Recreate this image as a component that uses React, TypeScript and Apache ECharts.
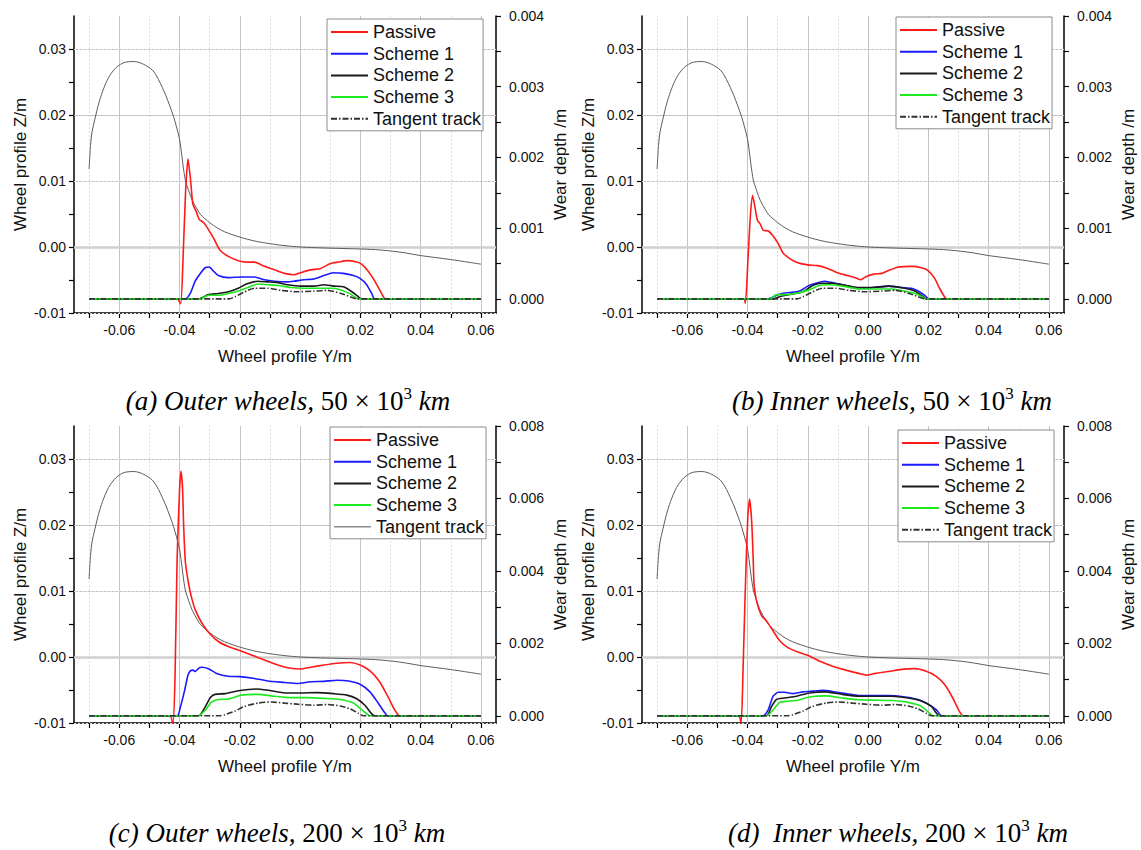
import React, { useEffect, useRef } from 'react';
import * as echarts from 'echarts';

// ---- axis tick / label values ----
const xLabelValues = [-0.06, -0.04, -0.02, 0, 0.02, 0.04, 0.06];
const xTickValues = [-0.07, -0.06, -0.05, -0.04, -0.03, -0.02, -0.01, 0, 0.01, 0.02, 0.03, 0.04, 0.05, 0.06];
const xMinorGrid = [-0.07, -0.05, -0.03, -0.01, 0.01, 0.03, 0.05];
const zLabelValues = [-0.01, 0, 0.01, 0.02, 0.03];
const zTickValues = [-0.01, -0.005, 0, 0.005, 0.01, 0.015, 0.02, 0.025, 0.03];
const zMajorGrid = [0.01, 0.02, 0.03];
const zMinorGrid = [-0.005, 0.005, 0.015, 0.025];
const wearLabels50 = [0, 0.001, 0.002, 0.003, 0.004];
const wearTicks50 = [0, 0.0005, 0.001, 0.0015, 0.002, 0.0025, 0.003, 0.0035, 0.004];
const wearLabels200 = [0, 0.002, 0.004, 0.006, 0.008];
const wearTicks200 = [0, 0.001, 0.002, 0.003, 0.004, 0.005, 0.006, 0.007, 0.008];

const seriesNames = ['Passive', 'Scheme 1', 'Scheme 2', 'Scheme 3', 'Tangent track'];

// ---- wheel profile (Y, Z) ----
const wheelProfile = [
  [-0.07, 0.0118], [-0.0695, 0.0155], [-0.069, 0.0175], [-0.068, 0.0195], [-0.067, 0.0214],
  [-0.0655, 0.0236], [-0.0635, 0.0257], [-0.061, 0.0272], [-0.058, 0.028], [-0.055, 0.0281],
  [-0.052, 0.0277], [-0.049, 0.0268], [-0.047, 0.0254], [-0.0445, 0.0229], [-0.042, 0.0198],
  [-0.041, 0.0182], [-0.04, 0.0164], [-0.0395, 0.0148], [-0.039, 0.013], [-0.0385, 0.0113],
  [-0.038, 0.01], [-0.037, 0.0086], [-0.0358, 0.0071], [-0.034, 0.0056], [-0.033, 0.0049],
  [-0.03, 0.0037], [-0.0275, 0.0029], [-0.025, 0.0023], [-0.02, 0.0015], [-0.015, 0.0009],
  [-0.01, 0.0005], [-0.005, 0.0002], [0, 0], [0.005, -0.0001], [0.012, -0.0002],
  [0.02, -0.0003], [0.025, -0.0004], [0.03, -0.0006], [0.035, -0.0009], [0.04, -0.0013],
  [0.05, -0.0019], [0.06, -0.0026],
];

// ---- (a) outer wheels, 50e3 km ----
const passiveA = [
  [-0.07, 0], [-0.0408, 0], [-0.0396, -0.00007], [-0.0388, 0.0006], [-0.038, 0.0015], [-0.0372, 0.00198],
  [-0.0364, 0.00171], [-0.0358, 0.00142], [-0.0355, 0.00133], [-0.0345, 0.00124], [-0.0334, 0.00112],
  [-0.032, 0.00108], [-0.0304, 0.00098], [-0.0287, 0.00086], [-0.0266, 0.00069], [-0.0238, 0.0006],
  [-0.0205, 0.00054], [-0.0178, 0.00052], [-0.0151, 0.00052], [-0.0118, 0.00046], [-0.0085, 0.00041],
  [-0.0052, 0.00036], [-0.002, 0.00034], [0.0002, 0.00037], [0.0035, 0.00041], [0.0068, 0.00043],
  [0.0101, 0.0005], [0.0128, 0.00052], [0.0155, 0.00054], [0.0188, 0.00052], [0.0204, 0.00049],
  [0.0226, 0.00039], [0.0248, 0.00025], [0.027, 0.00008], [0.0283, 0], [0.06, 0],
];
const scheme1A = [
  [-0.07, 0], [-0.038, 0], [-0.0364, 0.00008], [-0.0348, 0.00025], [-0.0331, 0.00036], [-0.0315, 0.00044],
  [-0.0301, 0.00045], [-0.0287, 0.00039], [-0.0271, 0.00033], [-0.0238, 0.0003], [-0.0195, 0.00031],
  [-0.0151, 0.00031], [-0.0118, 0.00027], [-0.0085, 0.00025], [-0.0042, 0.00024], [-0.002, 0.00025],
  [0.0013, 0.00027], [0.0046, 0.00028], [0.0079, 0.00033], [0.0111, 0.00037], [0.0144, 0.00036],
  [0.0177, 0.00033], [0.0199, 0.00029], [0.0221, 0.0002], [0.0237, 0.00008], [0.0248, 0], [0.06, 0],
];
const scheme2A = [
  [-0.07, 0], [-0.0337, 0], [-0.0304, 0.00006], [-0.0271, 0.000075], [-0.0238, 0.0001], [-0.0205, 0.00015],
  [-0.0178, 0.00021], [-0.014, 0.00025], [-0.0107, 0.00024], [-0.0074, 0.00023], [-0.0042, 0.0002],
  [0.0002, 0.00018], [0.0046, 0.00018], [0.0079, 0.0002], [0.0111, 0.00018], [0.0144, 0.00017],
  [0.0172, 0.0001], [0.0193, 0.00003], [0.0204, 0], [0.06, 0],
];
const scheme3A = [
  [-0.07, 0], [-0.0331, 0], [-0.0304, 0.00005], [-0.0271, 0.00005], [-0.0238, 0.000075], [-0.0205, 0.00011],
  [-0.0173, 0.00016], [-0.014, 0.00021], [-0.0107, 0.0002], [-0.0074, 0.00019], [-0.0031, 0.00016],
  [0.0013, 0.00015], [0.0057, 0.00015], [0.0101, 0.00015], [0.0133, 0.00013], [0.0166, 0.00007],
  [0.0188, 0.00001], [0.0193, 0], [0.06, 0],
];
const tangent50 = [
  [-0.07, 0], [-0.0235, 0], [-0.0216, 0.00003], [-0.0184, 0.0001], [-0.0151, 0.00015], [-0.0107, 0.00015],
  [-0.0063, 0.00012], [-0.0009, 0.0001], [0.0046, 0.00011], [0.009, 0.00012], [0.0133, 0.00008],
  [0.0166, 0.00003], [0.0188, 0], [0.06, 0],
];

// ---- (b) inner wheels, 50e3 km ----
const passiveB = [
  [-0.07, 0], [-0.0412, 0], [-0.0407, -0.00006], [-0.0398, 0.0006], [-0.039, 0.0012], [-0.0383, 0.00146],
  [-0.0375, 0.00129], [-0.0367, 0.00111], [-0.0358, 0.00106], [-0.0348, 0.00097], [-0.0331, 0.00096],
  [-0.0315, 0.00089], [-0.0298, 0.00078], [-0.0282, 0.00065], [-0.026, 0.00057], [-0.0233, 0.00051],
  [-0.02, 0.00048], [-0.0167, 0.00047], [-0.0134, 0.00043], [-0.0102, 0.00037], [-0.0069, 0.00033],
  [-0.0042, 0.0003], [-0.0025, 0.00027], [-0.0009, 0.00031], [0.0019, 0.00035], [0.0046, 0.00036],
  [0.0068, 0.0004], [0.0101, 0.00045], [0.0144, 0.00046], [0.0177, 0.00044], [0.0199, 0.0004],
  [0.0221, 0.00029], [0.0237, 0.00015], [0.0255, 0.00002], [0.026, 0], [0.06, 0],
];
const scheme1B = [
  [-0.07, 0], [-0.0331, 0], [-0.0304, 0.00005], [-0.0282, 0.00008], [-0.0249, 0.000095], [-0.0227, 0.00011],
  [-0.02, 0.00018], [-0.0173, 0.00022], [-0.0145, 0.00025], [-0.0118, 0.00023], [-0.0085, 0.0002],
  [-0.0042, 0.00016], [-0.0009, 0.00015], [0.0035, 0.00017], [0.0068, 0.00018], [0.0111, 0.00016],
  [0.0144, 0.00015], [0.0166, 0.00011], [0.0188, 0.00005], [0.0201, 0], [0.06, 0],
];
const scheme2B = [
  [-0.07, 0], [-0.0315, 0], [-0.0293, 0.00003], [-0.0249, 0.00007], [-0.0216, 0.0001], [-0.0184, 0.00019],
  [-0.0151, 0.00022], [-0.0118, 0.00022], [-0.0074, 0.00019], [-0.0031, 0.00016], [0.0013, 0.00016],
  [0.0068, 0.00018], [0.0122, 0.00015], [0.0155, 0.00011], [0.0183, 0.00003], [0.0193, 0], [0.06, 0],
];
const scheme3B = [
  [-0.07, 0], [-0.0325, 0], [-0.0304, 0.00006], [-0.0271, 0.00006], [-0.0238, 0.00008], [-0.02, 0.00012],
  [-0.0162, 0.00019], [-0.0129, 0.0002], [-0.0085, 0.00018], [-0.0031, 0.00014], [0.0024, 0.00014],
  [0.0079, 0.00014], [0.0122, 0.00011], [0.0155, 0.00008], [0.0183, 0.00002], [0.0188, 0], [0.06, 0],
];

// ---- (c) outer wheels, 200e3 km ----
const passiveC = [
  [-0.07, 0], [-0.0432, 0], [-0.0422, -0.00025], [-0.0415, 0.001], [-0.0408, 0.0043], [-0.04, 0.0062],
  [-0.0395, 0.00675], [-0.039, 0.0063], [-0.0386, 0.0052], [-0.0381, 0.0043], [-0.0375, 0.0039],
  [-0.0367, 0.00352], [-0.0358, 0.0032], [-0.0348, 0.00293], [-0.0326, 0.00256], [-0.0301, 0.00228],
  [-0.0271, 0.00205], [-0.0238, 0.00191], [-0.02, 0.0018], [-0.0162, 0.00168], [-0.0118, 0.00154],
  [-0.0074, 0.0014], [-0.0031, 0.00131], [0, 0.00129], [0.0035, 0.00134], [0.0079, 0.0014],
  [0.0122, 0.00145], [0.0166, 0.00147], [0.0199, 0.0014], [0.0232, 0.00124], [0.0264, 0.00094],
  [0.0292, 0.00052], [0.031, 0.00022], [0.0325, 0.00003], [0.033, 0], [0.06, 0],
];
const scheme1C = [
  [-0.07, 0], [-0.0408, 0], [-0.0397, 0.00024], [-0.0383, 0.0007], [-0.0372, 0.00112], [-0.0364, 0.00124],
  [-0.0355, 0.00126], [-0.0348, 0.00122], [-0.0337, 0.00131], [-0.0326, 0.00134], [-0.0304, 0.0013],
  [-0.0277, 0.00117], [-0.0238, 0.00109], [-0.02, 0.00108], [-0.0151, 0.00103], [-0.0107, 0.00096],
  [-0.0052, 0.00092], [-0.0009, 0.00089], [0.0035, 0.00094], [0.0079, 0.00095], [0.0122, 0.00098],
  [0.0161, 0.00096], [0.0199, 0.00087], [0.0232, 0.00066], [0.0259, 0.00035], [0.0283, 0.00006],
  [0.029, 0], [0.06, 0],
];
const scheme2C = [
  [-0.07, 0], [-0.0337, 0], [-0.0315, 0.00024], [-0.0298, 0.0005], [-0.0282, 0.00059], [-0.0249, 0.00061],
  [-0.0205, 0.00069], [-0.0145, 0.00074], [-0.0096, 0.00069], [-0.0042, 0.00063], [0.0002, 0.00063],
  [0.0057, 0.00064], [0.0111, 0.00061], [0.0155, 0.00057], [0.0188, 0.00047], [0.0215, 0.00029],
  [0.0237, 0.00006], [0.0248, 0], [0.06, 0],
];
const scheme3C = [
  [-0.07, 0], [-0.0337, 0], [-0.0315, 0.00015], [-0.0293, 0.00038], [-0.0271, 0.00045], [-0.0238, 0.00046],
  [-0.0195, 0.00057], [-0.014, 0.00059], [-0.0085, 0.00054], [-0.0031, 0.0005], [0.0024, 0.0005],
  [0.0079, 0.00048], [0.0133, 0.00045], [0.0177, 0.00035], [0.021, 0.00013], [0.0232, 0], [0.06, 0],
];
const tangent200 = [
  [-0.07, 0], [-0.027, 0], [-0.0249, 0.00003], [-0.0216, 0.00013], [-0.0184, 0.00026], [-0.014, 0.00035],
  [-0.0096, 0.00038], [-0.0052, 0.00035], [-0.0009, 0.00032], [0.0046, 0.00029], [0.009, 0.00031],
  [0.0133, 0.00027], [0.0166, 0.00019], [0.0193, 0.00007], [0.021, 0], [0.06, 0],
];

// ---- (d) inner wheels, 200e3 km ----
const passiveD = [
  [-0.07, 0], [-0.043, 0], [-0.0421, -0.0002], [-0.0415, 0.0012], [-0.0408, 0.0033], [-0.0399, 0.0055],
  [-0.0393, 0.00598], [-0.0386, 0.00535], [-0.0381, 0.0043], [-0.0378, 0.0036], [-0.0369, 0.00313],
  [-0.0353, 0.00276], [-0.0337, 0.00262], [-0.0315, 0.00234], [-0.0293, 0.00207], [-0.0266, 0.00188],
  [-0.0233, 0.00176], [-0.02, 0.00167], [-0.0162, 0.00151], [-0.0118, 0.00137], [-0.0074, 0.00126],
  [-0.0031, 0.00117], [-0.0003, 0.00112], [0.0024, 0.00117], [0.0068, 0.00122], [0.0111, 0.00128],
  [0.0155, 0.0013], [0.0193, 0.00123], [0.0226, 0.00109], [0.0254, 0.00086], [0.0281, 0.00049],
  [0.0303, 0.00012], [0.0316, 0], [0.06, 0],
];
const scheme1D = [
  [-0.07, 0], [-0.0348, 0], [-0.0331, 0.00017], [-0.0315, 0.00054], [-0.0298, 0.00065], [-0.0277, 0.00065],
  [-0.0249, 0.00061], [-0.0216, 0.00066], [-0.0184, 0.00068], [-0.0151, 0.0007], [-0.0118, 0.00067],
  [-0.0074, 0.00061], [-0.0031, 0.00056], [0.0013, 0.00056], [0.0068, 0.00056], [0.0122, 0.00052],
  [0.0166, 0.00045], [0.0199, 0.00032], [0.0226, 0.00017], [0.0245, 0], [0.06, 0],
];
const scheme2D = [
  [-0.07, 0], [-0.0337, 0], [-0.032, 0.00026], [-0.0304, 0.00045], [-0.0277, 0.00049], [-0.0238, 0.00054],
  [-0.0195, 0.00063], [-0.014, 0.00066], [-0.0085, 0.00059], [-0.0031, 0.00054], [0.0024, 0.00054],
  [0.0079, 0.00054], [0.0133, 0.00049], [0.0177, 0.00041], [0.021, 0.00026], [0.0237, 0], [0.06, 0],
];
const scheme3D = [
  [-0.07, 0], [-0.0337, 0], [-0.0315, 0.00016], [-0.0293, 0.00037], [-0.0266, 0.0004], [-0.0233, 0.00043],
  [-0.0195, 0.00052], [-0.014, 0.00055], [-0.0085, 0.00049], [-0.0031, 0.00044], [0.0024, 0.00043],
  [0.0079, 0.00042], [0.0133, 0.00037], [0.0177, 0.00026], [0.0204, 0.00007], [0.0215, 0], [0.06, 0],
];

const SANS = '"Liberation Sans", Arial, sans-serif';
const SERIF = '"Liberation Serif", "Times New Roman", serif';
const TEXT = '#111';
const colors = ['#ff1a1a', '#1a1aff', '#1a1a1a', '#1ee81e', '#333333'];

const GRID_W = 422;
const GRID_H = 297;

const panels = [
  {
    left: 74, top: 16, wearMax: 0.004, wearLabels: wearLabels50, wearTicks: wearTicks50,
    wear: [passiveA, scheme1A, scheme2A, scheme3A, tangent50],
    legend: { left: 327, top: 19 }, solidTangentLegend: false,
    caption: { x: 288, y: 401, label: '(a) Outer wheels,', num: '50' },
  },
  {
    left: 642, top: 16, wearMax: 0.004, wearLabels: wearLabels50, wearTicks: wearTicks50,
    wear: [passiveB, scheme1B, scheme2B, scheme3B, tangent50],
    legend: { left: 896, top: 17 }, solidTangentLegend: false,
    caption: { x: 892, y: 401, label: '(b) Inner wheels,', num: '50' },
  },
  {
    left: 74, top: 426, wearMax: 0.008, wearLabels: wearLabels200, wearTicks: wearTicks200,
    wear: [passiveC, scheme1C, scheme2C, scheme3C, tangent200],
    legend: { left: 330, top: 427 }, solidTangentLegend: true,
    caption: { x: 277, y: 833, label: '(c) Outer wheels,', num: '200' },
  },
  {
    left: 642, top: 426, wearMax: 0.008, wearLabels: wearLabels200, wearTicks: wearTicks200,
    wear: [passiveD, scheme1D, scheme2D, scheme3D, tangent200],
    legend: { left: 898, top: 430 }, solidTangentLegend: false,
    caption: { x: 898, y: 833, label: '(d)  Inner wheels,', num: '200' },
  },
];

function buildOption() {
  const grid: any[] = [];
  const xAxis: any[] = [];
  const yAxis: any[] = [];
  const series: any[] = [];
  const legend: any[] = [];
  const graphic: any[] = [];

  const axisLineStyle = { color: '#000', width: 1.5 };
  const tickStyle = { color: '#000', width: 1.2 };

  panels.forEach((p, i) => {
    grid.push({ left: p.left, top: p.top, width: GRID_W, height: GRID_H, containLabel: false });

    xAxis.push({
      gridIndex: i, type: 'value', min: -0.075, max: 0.065,
      axisLine: { show: true, onZero: false, lineStyle: axisLineStyle },
      axisTick: { show: true, length: 5, customValues: xTickValues, lineStyle: tickStyle },
      axisLabel: {
        customValues: xLabelValues, formatter: (v: number) => v.toFixed(2),
        fontSize: 14, color: TEXT, fontFamily: SANS, margin: 10,
      },
      splitLine: { show: false },
      name: 'Wheel profile Y/m', nameLocation: 'middle', nameGap: 35,
      nameTextStyle: { fontSize: 17, color: TEXT, fontFamily: SANS },
    });

    yAxis.push({
      gridIndex: i, type: 'value', min: -0.01, max: 0.035, position: 'left',
      axisLine: { show: true, onZero: false, lineStyle: axisLineStyle },
      axisTick: { show: true, length: 5, customValues: zTickValues, lineStyle: tickStyle },
      axisLabel: {
        customValues: zLabelValues, formatter: (v: number) => v.toFixed(2),
        fontSize: 14, color: TEXT, fontFamily: SANS, margin: 8,
      },
      splitLine: { show: false },
      name: 'Wheel profile Z/m', nameLocation: 'middle', nameGap: 45,
      nameTextStyle: { fontSize: 17, color: TEXT, fontFamily: SANS },
    });
    yAxis.push({
      gridIndex: i, type: 'value', min: -0.0002, max: p.wearMax, position: 'right',
      axisLine: { show: true, onZero: false, lineStyle: axisLineStyle },
      axisTick: { show: true, length: 5, customValues: p.wearTicks, lineStyle: tickStyle },
      axisLabel: {
        customValues: p.wearLabels, formatter: (v: number) => v.toFixed(3),
        fontSize: 14, color: TEXT, fontFamily: SANS, margin: 13,
      },
      splitLine: { show: false },
      name: 'Wear depth /m', nameLocation: 'middle', nameGap: 56, nameRotate: 90,
      nameTextStyle: { fontSize: 17, color: TEXT, fontFamily: SANS },
    });

    const majorV = { color: '#c4c4c4', width: 1, type: 'solid' };
    const minorV = { color: '#dedede', width: 1, type: [2, 2] };
    const gridLines: any[] = [];
    xLabelValues.forEach((v) => gridLines.push({ xAxis: v, lineStyle: majorV }));
    xMinorGrid.forEach((v) => gridLines.push({ xAxis: v, lineStyle: minorV }));
    zMajorGrid.forEach((v) => gridLines.push({ yAxis: v, lineStyle: majorV }));
    zMinorGrid.forEach((v) => gridLines.push({ yAxis: v, lineStyle: minorV }));
    gridLines.push({ yAxis: 0, lineStyle: { color: '#cfcfcf', width: 2.5, type: 'solid' } });

    series.push({
      name: 'Wheel profile', type: 'line', xAxisIndex: i, yAxisIndex: 2 * i,
      data: wheelProfile, showSymbol: false, symbol: 'none', smooth: 0.3, z: 3,
      lineStyle: { color: '#5c5c5c', width: 1 }, silent: true,
      markLine: {
        silent: true, symbol: ['none', 'none'], z: 1, animation: false,
        label: { show: false }, emphasis: { disabled: true },
        data: gridLines,
      },
    });

    p.wear.forEach((d, k) => {
      series.push({
        name: seriesNames[k], type: 'line', xAxisIndex: i, yAxisIndex: 2 * i + 1,
        data: d, symbol: 'none', showSymbol: false, smooth: 0.2, z: 4 + k, clip: true,
        lineStyle: {
          color: colors[k], width: 1.6,
          type: k === 4 ? [6, 2, 1.5, 2] : 'solid',
        },
        itemStyle: { color: colors[k] },
        emphasis: { disabled: true },
      });
    });

    legend.push({
      orient: 'vertical', left: p.legend.left, top: p.legend.top,
      itemWidth: 37, itemHeight: 12, itemGap: 3.7, padding: [4, 2, 3, 3],
      borderColor: '#8c8c8c', borderWidth: 1, backgroundColor: '#fff', z: 20,
      selectedMode: false,
      itemStyle: { opacity: 0, borderWidth: 0 },
      textStyle: { fontSize: 18, color: TEXT, fontFamily: SANS, lineHeight: 17 },
      data: seriesNames.map((n) =>
        n === 'Tangent track' && p.solidTangentLegend
          ? { name: n, lineStyle: { type: 'solid', color: '#8a8a8a', width: 1.5 } }
          : { name: n }
      ),
    });

    graphic.push({
      type: 'text', x: p.caption.x, y: p.caption.y, silent: true,
      style: {
        text: `{it|${p.caption.label}} {rm|${p.caption.num} × 10}{sup|3} {it|km}`,
        align: 'center', verticalAlign: 'middle',
        font: `27px ${SERIF}`, fill: '#000',
        rich: {
          it: { fontFamily: SERIF, fontStyle: 'italic', fontSize: 27, fill: '#000' },
          rm: { fontFamily: SERIF, fontSize: 27, fill: '#000' },
          sup: { fontFamily: SERIF, fontSize: 17, fill: '#000', padding: [0, 0, 16, 0] },
        },
      },
    });
  });

  return {
    animation: false,
    backgroundColor: '#fff',
    grid, xAxis, yAxis, series, legend, graphic,
  };
}

export default function App() {
  const ref = useRef<HTMLDivElement>(null);
  useEffect(() => {
    document.body.style.margin = '0';
    if (!ref.current) return;
    const chart = echarts.init(ref.current, null, { renderer: 'svg' });
    chart.setOption(buildOption() as any);
    return () => chart.dispose();
  }, []);
  return <div ref={ref} style={{ width: 1141, height: 850 }} />;
}
